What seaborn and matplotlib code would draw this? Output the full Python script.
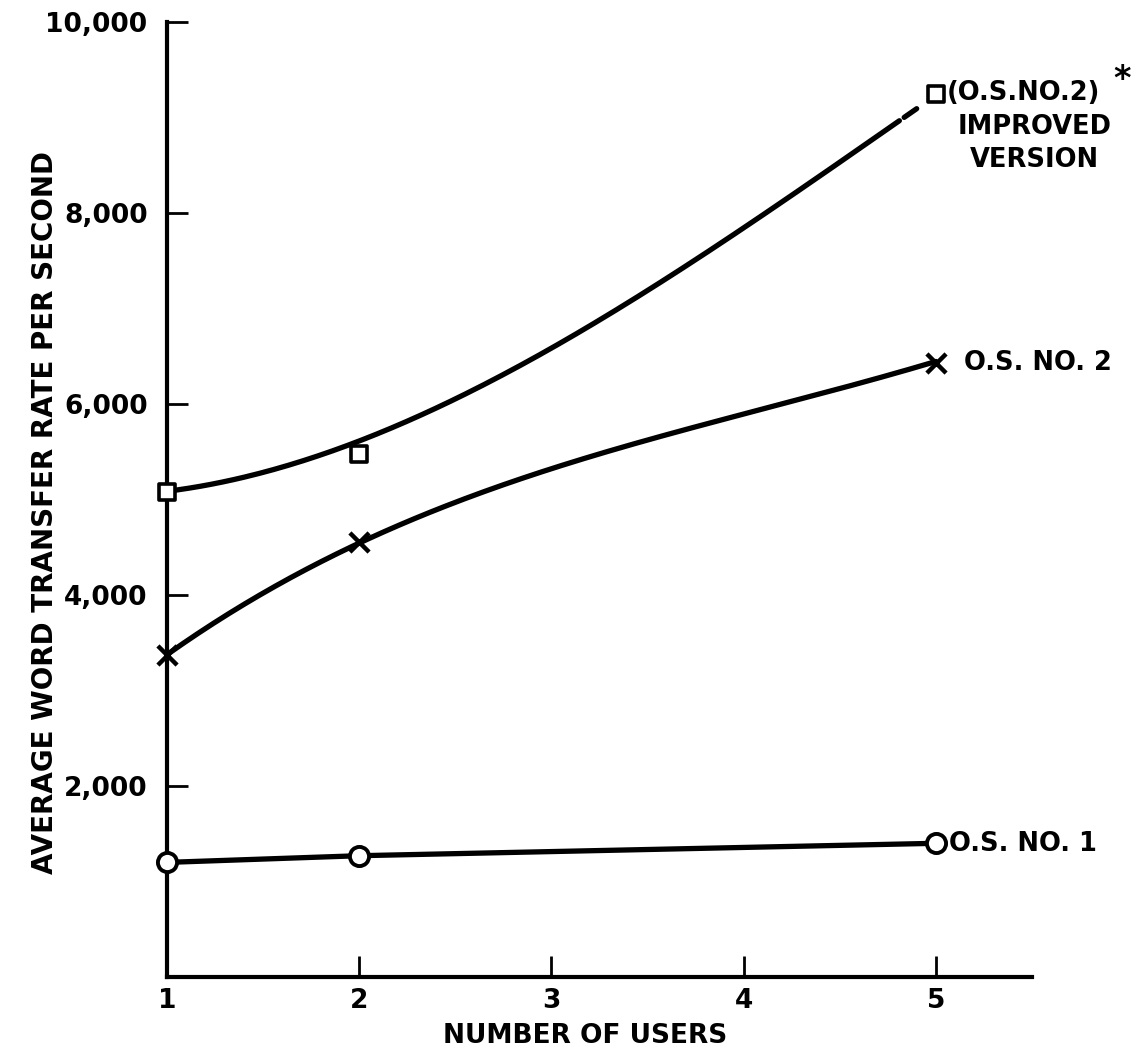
import numpy as np
import pandas as pd
import matplotlib
matplotlib.use("Agg")
import matplotlib.pyplot as plt
import seaborn as sns

# ---- data ----
users = [1, 2, 5]
os1_rate = [1200, 1270, 1400]          # O.S. No. 1 (circles)
os2_rate = [3370, 4550, 6430]          # O.S. No. 2 (x)
imp_rate = [5080, 5480, 9250]          # O.S. No. 2 improved (squares)

# readings along the hand-drawn smooth curves
imp_curve_x = [1.0, 1.69, 2.02, 2.47, 3.01, 3.52, 4.01, 4.56, 4.90]
imp_curve_y = [5080, 5410, 5620, 6040, 6570, 7210, 7870, 8630, 9080]
os2_curve_x = [1.0, 1.99, 2.47, 3.01, 3.52, 4.01, 4.56, 5.0]
os2_curve_y = [3370, 4550, 4960, 5290, 5640, 5900, 6220, 6430]

x_ticks = [1, 2, 3, 4, 5]
y_ticks = [2000, 4000, 6000, 8000, 10000]
y_tick_labels = ["2,000", "4,000", "6,000", "8,000", "10,000"]

sns.set_theme(style="white")
plt.rcParams["font.family"] = ["DejaVu Sans"]
plt.rcParams["font.weight"] = "bold"
plt.rcParams["text.color"] = "black"
plt.rcParams["axes.labelcolor"] = "black"

W, H = 1135, 1055
fig = plt.figure(figsize=(W / 100, H / 100), dpi=100)
ax = fig.add_axes([167 / W, 1 - 977 / H, (1032 - 167) / W, 955 / H])

LW = 3.8
K = "black"

def smooth(xs, ys, x0, x1, deg=3):
    c = np.polyfit(xs, ys, deg)
    xx = np.linspace(x0, x1, 200)
    return xx, np.polyval(c, xx)

# improved version curve (with small broken dash at its end)
xx, yy = smooth(imp_curve_x, imp_curve_y, 1.0, 4.81)
sns.lineplot(x=xx, y=yy, ax=ax, color=K, lw=LW, sort=False, estimator=None)
xx, yy = smooth(imp_curve_x, imp_curve_y, 4.835, 4.90)
sns.lineplot(x=xx, y=yy, ax=ax, color=K, lw=LW, sort=False, estimator=None)

# O.S. No. 2 curve
xx, yy = smooth(os2_curve_x, os2_curve_y, 1.0, 5.0)
sns.lineplot(x=xx, y=yy, ax=ax, color=K, lw=LW, sort=False, estimator=None)

# O.S. No. 1 straight segments
sns.lineplot(x=users, y=os1_rate, ax=ax, color=K, lw=LW, sort=False, estimator=None)

# markers
sns.scatterplot(x=users, y=imp_rate, ax=ax, marker="s", s=120, facecolor="white",
                edgecolor=K, linewidth=2.6, zorder=5, clip_on=False)
sns.scatterplot(x=users, y=os2_rate, ax=ax, marker="x", s=190, color=K,
                linewidth=3.2, zorder=5, clip_on=False)
sns.scatterplot(x=users, y=os1_rate, ax=ax, marker="o", s=190, facecolor="white",
                edgecolor=K, linewidth=2.8, zorder=5, clip_on=False)

ax.set_xlim(1, 5.5)
ax.set_ylim(0, 10000)
ax.set_xticks(x_ticks)
ax.set_xticklabels([str(v) for v in x_ticks])
ax.set_yticks(y_ticks)
ax.set_yticklabels(y_tick_labels)
sns.despine(ax=ax)
for s in ["left", "bottom"]:
    ax.spines[s].set_linewidth(3.0)
    ax.spines[s].set_color(K)
    ax.spines[s].set_capstyle("projecting")
ax.tick_params(axis="both", direction="in", length=15, width=2.0, colors=K,
               labelsize=19, left=True, bottom=True, labelcolor=K)
ax.tick_params(axis="y", pad=14)
ax.tick_params(axis="x", pad=8)
for lab in ax.get_xticklabels() + ax.get_yticklabels():
    lab.set_fontweight("bold")

fig.text(45 / W, 1 - 512 / H, "AVERAGE WORD TRANSFER RATE PER SECOND",
         rotation=90, ha="center", va="center", fontsize=20, fontweight="bold",
         color=K)
fig.text(585 / W, 1 - 1036 / H, "NUMBER OF USERS", ha="center", va="center",
         fontsize=19, fontweight="bold", color=K)

tk = dict(fontsize=18.5, fontweight="bold", clip_on=False, color=K)
ax.text(5.056, 9256, "(O.S.NO.2)", ha="left", va="center", **tk)
ax.text(5.97, 9400, "*", ha="center", va="center", fontsize=24,
        fontweight="bold", clip_on=False, color=K)
ax.text(5.515, 8900, "IMPROVED", ha="center", va="center", **tk)
ax.text(5.515, 8554, "VERSION", ha="center", va="center", **tk)
ax.text(5.145, 6429, "O.S. NO. 2", ha="left", va="center", **tk)
ax.text(5.07, 1390, "O.S. NO. 1", ha="left", va="center", **tk)

fig.savefig("out.png", dpi=100, facecolor="white")
